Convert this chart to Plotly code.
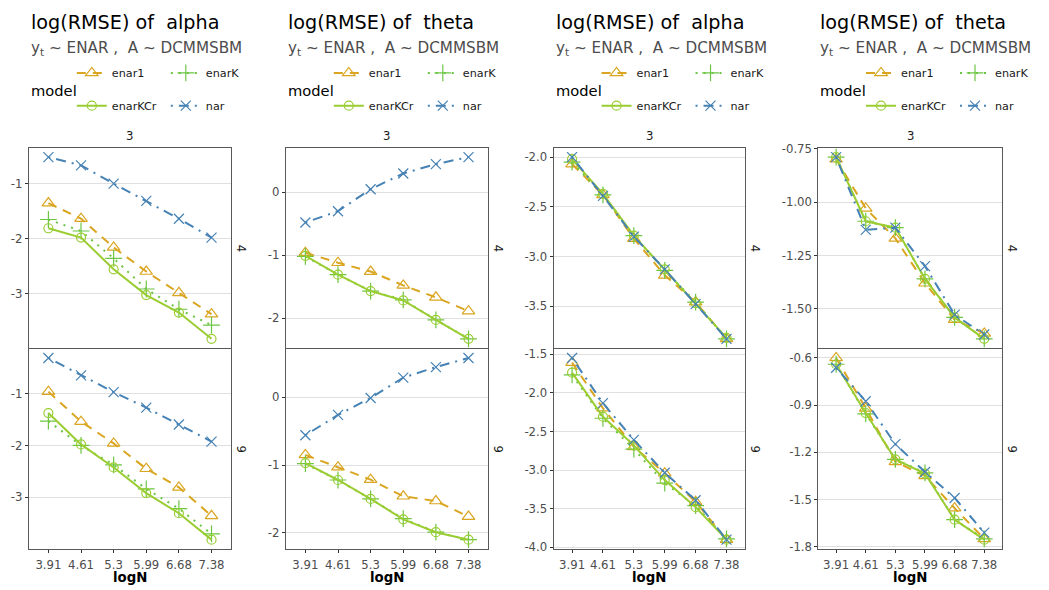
import math
import plotly.graph_objects as go

# ---- data -------------------------------------------------------------
LOGN = ["3.91", "4.61", "5.3", "5.99", "6.68", "7.38"]
MODELS = ["enar1", "enarK", "enarKCr", "nar"]
FACETS = ["4", "9"]

# panel A: log(RMSE) of alpha
alpha_a_4_enar1 = [-1.35, -1.635, -2.16, -2.60, -2.99, -3.38]
alpha_a_4_enarK = [-1.65, -1.86, -2.36, -2.92, -3.29, -3.58]
alpha_a_4_enarKCr = [-1.81, -1.98, -2.56, -3.03, -3.35, -3.83]
alpha_a_4_nar = [-0.51, -0.66, -0.995, -1.31, -1.635, -1.98]
alpha_a_9_enar1 = [-0.96, -1.54, -1.96, -2.45, -2.81, -3.36]
alpha_a_9_enarK = [-1.53, -2.00, -2.375, -2.84, -3.22, -3.71]
alpha_a_9_enarKCr = [-1.375, -1.98, -2.425, -2.92, -3.31, -3.82]
alpha_a_9_nar = [-0.31, -0.645, -0.97, -1.27, -1.595, -1.925]

# panel B: log(RMSE) of theta
theta_a_4_enar1 = [-0.96, -1.12, -1.26, -1.48, -1.67, -1.89]
theta_a_4_enarK = [-1.02, -1.31, -1.57, -1.71, -2.03, -2.33]
theta_a_4_enarKCr = [-1.01, -1.31, -1.57, -1.72, -2.03, -2.33]
theta_a_4_nar = [-0.48, -0.30, 0.05, 0.30, 0.45, 0.56]
theta_a_9_enar1 = [-0.85, -1.03, -1.215, -1.46, -1.53, -1.76]
theta_a_9_enarK = [-0.98, -1.22, -1.50, -1.79, -1.99, -2.10]
theta_a_9_enarKCr = [-0.97, -1.22, -1.50, -1.80, -1.99, -2.10]
theta_a_9_nar = [-0.56, -0.26, -0.01, 0.29, 0.445, 0.58]

# panel C: log(RMSE) of alpha
alpha_b_4_enar1 = [-2.07, -2.38, -2.82, -3.19, -3.46, -3.83]
alpha_b_4_enarK = [-2.05, -2.38, -2.79, -3.14, -3.46, -3.83]
alpha_b_4_enarKCr = [-2.02, -2.37, -2.79, -3.13, -3.47, -3.82]
alpha_b_4_nar = [-2.00, -2.39, -2.80, -3.13, -3.48, -3.83]
alpha_b_9_enar1 = [-1.61, -2.20, -2.70, -3.04, -3.41, -3.90]
alpha_b_9_enarK = [-1.77, -2.33, -2.73, -3.17, -3.46, -3.89]
alpha_b_9_enarKCr = [-1.74, -2.31, -2.68, -3.13, -3.48, -3.90]
alpha_b_9_nar = [-1.55, -2.135, -2.61, -3.035, -3.39, -3.90]

# panel D: log(RMSE) of theta
theta_b_4_enar1 = [-0.80, -1.03, -1.17, -1.38, -1.55, -1.615]
theta_b_4_enarK = [-0.79, -1.09, -1.12, -1.36, -1.54, -1.64]
theta_b_4_enarKCr = [-0.79, -1.09, -1.12, -1.36, -1.54, -1.64]
theta_b_4_nar = [-0.79, -1.13, -1.12, -1.30, -1.527, -1.62]
theta_b_9_enar1 = [-0.60, -0.92, -1.26, -1.35, -1.555, -1.75]
theta_b_9_enarK = [-0.64, -0.955, -1.245, -1.33, -1.628, -1.75]
theta_b_9_enarKCr = [-0.64, -0.95, -1.245, -1.335, -1.628, -1.755]
theta_b_9_nar = [-0.662, -0.875, -1.148, -1.325, -1.49, -1.71]

PANEL_TITLES = ["log(RMSE) of  alpha", "log(RMSE) of  theta",
                "log(RMSE) of  alpha", "log(RMSE) of  theta"]
SUBTITLE = "y<sub>t</sub> ~ ENAR ,  A ~ DCMMSBM"

PANEL_DATA = [
    {"4": [alpha_a_4_enar1, alpha_a_4_enarK, alpha_a_4_enarKCr, alpha_a_4_nar],
     "9": [alpha_a_9_enar1, alpha_a_9_enarK, alpha_a_9_enarKCr, alpha_a_9_nar]},
    {"4": [theta_a_4_enar1, theta_a_4_enarK, theta_a_4_enarKCr, theta_a_4_nar],
     "9": [theta_a_9_enar1, theta_a_9_enarK, theta_a_9_enarKCr, theta_a_9_nar]},
    {"4": [alpha_b_4_enar1, alpha_b_4_enarK, alpha_b_4_enarKCr, alpha_b_4_nar],
     "9": [alpha_b_9_enar1, alpha_b_9_enarK, alpha_b_9_enarKCr, alpha_b_9_nar]},
    {"4": [theta_b_4_enar1, theta_b_4_enarK, theta_b_4_enarKCr, theta_b_4_nar],
     "9": [theta_b_9_enar1, theta_b_9_enarK, theta_b_9_enarKCr, theta_b_9_nar]},
]

# y tick step and decimals per (panel, facet)
TICK_STEP = [[1.0, 1.0], [1.0, 1.0], [0.5, 0.5], [0.25, 0.3]]
TICK_DEC = [[0, 0], [0, 0], [1, 1], [2, 1]]

# ---- styling ----------------------------------------------------------
W, H = 1049, 590
FONT = "DejaVu Sans"
FRAME = "#595959"
STYLE = {
    "enar1": dict(color="#DAA520", dash="9px,7px", symbol="triangle-up-open", size=11),
    "enarK": dict(color="#6CC644", dash="2px,6px", symbol="cross-thin-open", size=12),
    "enarKCr": dict(color="#9ACD32", dash="solid", symbol="circle-open", size=9),
    "nar": dict(color="#4682B4", dash="2px,6px,10px,6px", symbol="x-thin-open", size=10),
}
LEGEND_ROWS = [["enar1", "enarK"], ["enarKCr", "nar"]]

PANEL_X = [(29.5, 236.5), (292.5, 499.5), (566.5, 762.5), (837.5, 1025.5)]
ROW_Y = [(145, 349), (350, 554)]


def px_x(v):
    return v / W


def px_y(v):
    return 1 - v / H


def padded_range(series_list):
    lo = min(min(s) for s in series_list)
    hi = max(max(s) for s in series_list)
    pad = (hi - lo) * 0.05
    return [lo - pad, hi + pad]


def ticks_for(rng, step, dec):
    start = math.ceil(rng[0] / step - 1e-9)
    stop = math.floor(rng[1] / step + 1e-9)
    vals = [round(k * step, 6) for k in range(start, stop + 1)]
    text = []
    for v in vals:
        s = f"{v:.{dec}f}"
        if float(s) == 0:
            s = s.lstrip("-")
        text.append(s)
    return vals, text


fig = go.Figure()
layout = dict(
    width=W, height=H, margin=dict(l=0, r=0, t=0, b=0),
    paper_bgcolor="white", plot_bgcolor="white",
    font=dict(family=FONT, color="#1A1A1A"),
    showlegend=True,
)
annotations = []

for p, (x0, x1) in enumerate(PANEL_X):
    legend_ids = ["legend" if p == 0 else f"legend{2 * p + 1}", f"legend{2 * p + 2}"]
    for r, facet in enumerate(FACETS):
        idx = 2 * p + r + 1
        xa = "x" if idx == 1 else f"x{idx}"
        ya = "y" if idx == 1 else f"y{idx}"
        series = PANEL_DATA[p][facet]
        for m, name in enumerate(MODELS):
            st = STYLE[name]
            row_of = 0 if name in LEGEND_ROWS[0] else 1
            fig.add_trace(go.Scatter(
                x=LOGN, y=series[m], name=name, mode="lines+markers",
                xaxis=xa, yaxis=ya,
                line=dict(color=st["color"], width=2, dash=st["dash"]),
                marker=dict(symbol=st["symbol"], size=st["size"], color=st["color"],
                            line=dict(color=st["color"], width=1.2)),
                showlegend=(r == 0),
                legend=legend_ids[row_of],
            ))

        yr = padded_range(series)
        tv, tt = ticks_for(yr, TICK_STEP[p][r], TICK_DEC[p][r])
        y0, y1 = ROW_Y[r]
        xkey = "xaxis" if idx == 1 else f"xaxis{idx}"
        ykey = "yaxis" if idx == 1 else f"yaxis{idx}"
        bottom = (r == 1)
        layout[xkey] = dict(
            domain=[px_x(x0), px_x(x1)], anchor=ya, type="category",
            range=[-0.6, len(LOGN) - 0.4], categoryorder="array", categoryarray=LOGN,
            showline=True, mirror=True, linecolor=FRAME, linewidth=1,
            showgrid=False, zeroline=False,
            ticks="outside" if bottom else "", ticklen=3, tickcolor="#333333",
            ticklabelstandoff=2,
            showticklabels=bottom,
            tickfont=dict(family=FONT, size=11.7, color="#4D4D4D"),
        )
        layout[ykey] = dict(
            domain=[px_y(y1), px_y(y0)], anchor=xa, range=yr,
            tickmode="array", tickvals=tv, ticktext=tt,
            showline=True, mirror=True, linecolor=FRAME, linewidth=1,
            showgrid=True, gridcolor="#E0E0E0", gridwidth=1, zeroline=False,
            ticks="outside", ticklen=3, tickcolor="#333333",
            tickfont=dict(family=FONT, size=11.7, color="#4D4D4D"),
        )
        # right-hand facet strip
        annotations.append(dict(
            x=px_x(x1 + 10.5), y=px_y((y0 + y1) / 2), text=facet, textangle=90,
            font=dict(family=FONT, size=11.7, color="#1A1A1A"),
        ))

    # top facet strip, titles, legend title, x label
    annotations += [
        dict(x=px_x((x0 + x1) / 2), y=px_y(133), text="3",
             font=dict(family=FONT, size=11.7, color="#1A1A1A")),
        dict(x=px_x(x0), y=px_y(16.7), text=PANEL_TITLES[p], xanchor="left",
             font=dict(family=FONT, size=19.2, color="#000000")),
        dict(x=px_x(x0), y=px_y(43.5), text=SUBTITLE, xanchor="left",
             font=dict(family=FONT, size=15.2, color="#4D4D4D")),
        dict(x=px_x(x0), y=px_y(86), text="model", xanchor="left",
             font=dict(family=FONT, size=14.7, color="#000000")),
        dict(x=px_x((x0 + x1) / 2), y=px_y(583.5), text="<b>logN</b>",
             font=dict(family=FONT, size=13.3, color="#000000")),
    ]

    for k, row_y in enumerate([68.3, 101.7]):
        layout[legend_ids[k]] = dict(
            x=px_x(x0 + 44), y=px_y(row_y), xanchor="left", yanchor="middle",
            orientation="h", entrywidth=49, entrywidthmode="pixels",
            bgcolor="rgba(0,0,0,0)", borderwidth=0,
            font=dict(family=FONT, size=11.2, color="#1A1A1A"),
            itemclick=False, itemdoubleclick=False,
        )

for a in annotations:
    a.setdefault("xref", "paper")
    a.setdefault("yref", "paper")
    a.setdefault("showarrow", False)
    a.setdefault("xanchor", "center")
    a.setdefault("yanchor", "middle")
layout["annotations"] = annotations

fig.update_layout(**layout)
fig.write_html("out.html")
